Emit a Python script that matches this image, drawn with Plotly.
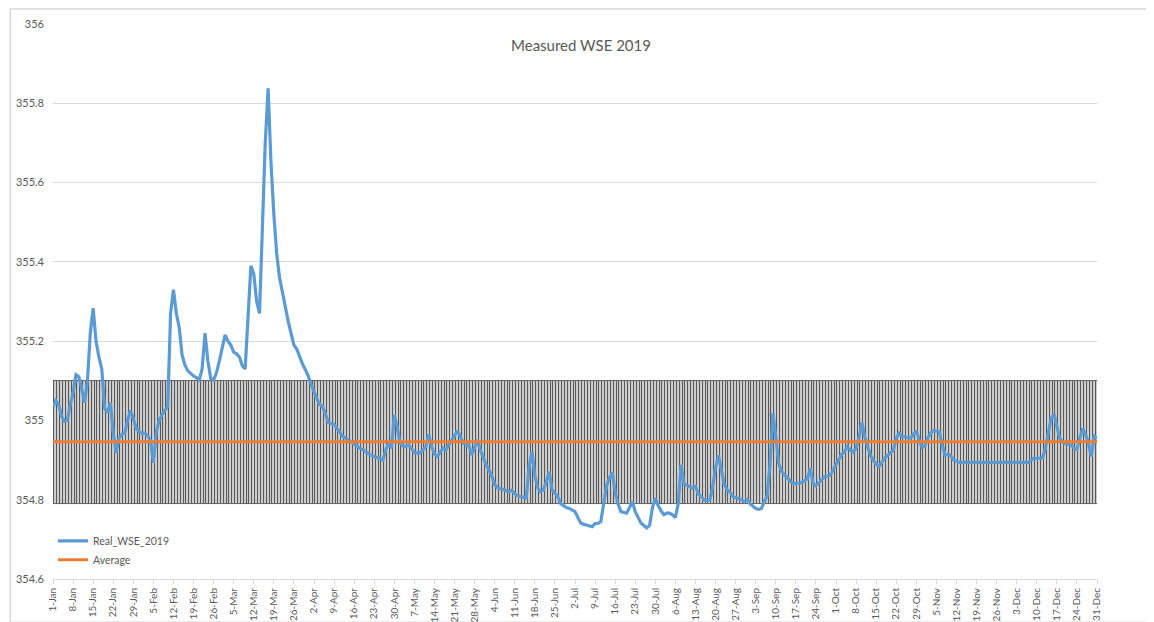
import pandas as pd
import plotly.graph_objects as go

# ── Daily water surface elevation, 2019 ─────────────────────────────────────
wse_jan = [355.035, 355.05, 355.04, 355.01, 354.998, 355.0, 355.04, 355.07, 355.115, 355.11,
           355.08, 355.045, 355.1, 355.22, 355.283, 355.2, 355.16, 355.13, 355.03, 355.02,
           355.045, 354.97, 354.918, 354.955, 354.965, 354.968, 355.0, 355.025, 355.005, 354.98,
           354.972]
wse_feb = [354.968, 354.968, 354.962, 354.95, 354.893, 354.97, 355.0, 355.015, 355.025, 355.035,
           355.27, 355.33, 355.27, 355.235, 355.165, 355.14, 355.125, 355.118, 355.112, 355.108,
           355.102, 355.13, 355.22, 355.15, 355.106, 355.102, 355.12, 355.15]
wse_mar = [355.18, 355.216, 355.2, 355.19, 355.172, 355.168, 355.16, 355.138, 355.13, 355.26,
           355.39, 355.37, 355.3, 355.27, 355.5, 355.7, 355.838, 355.65, 355.52, 355.42,
           355.36, 355.32, 355.28, 355.25, 355.22, 355.19, 355.18, 355.16, 355.142, 355.128,
           355.112]
wse_apr = [355.09, 355.07, 355.055, 355.04, 355.035, 355.015, 354.995, 354.992, 354.99, 354.98,
           354.97, 354.96, 354.955, 354.951, 354.945, 354.94, 354.934, 354.93, 354.926, 354.92,
           354.916, 354.912, 354.909, 354.906, 354.902, 354.9, 354.925, 354.943, 354.93, 355.014]
wse_may = [354.984, 354.943, 354.936, 354.934, 354.937, 354.93, 354.918, 354.917, 354.918, 354.925,
           354.934, 354.965, 354.934, 354.915, 354.909, 354.92, 354.93, 354.926, 354.938, 354.95,
           354.96, 354.974, 354.96, 354.943, 354.94, 354.937, 354.913, 354.935, 354.951, 354.925,
           354.905]
wse_jun = [354.888, 354.875, 354.86, 354.838, 354.83, 354.828, 354.826, 354.823, 354.82, 354.824,
           354.815, 354.81, 354.808, 354.808, 354.804, 354.884, 354.921, 354.86, 354.83, 354.82,
           354.825, 354.845, 354.871, 354.825, 354.815, 354.808, 354.79, 354.784, 354.78, 354.778]
wse_jul = [354.775, 354.77, 354.755, 354.741, 354.738, 354.736, 354.734, 354.732, 354.74, 354.74,
           354.745, 354.785, 354.835, 354.855, 354.868, 354.82, 354.79, 354.77, 354.768, 354.766,
           354.78, 354.795, 354.77, 354.755, 354.741, 354.735, 354.729, 354.735, 354.78, 354.804,
           354.785]
wse_aug = [354.772, 354.762, 354.766, 354.766, 354.762, 354.755, 354.79, 354.888, 354.84, 354.837,
           354.833, 354.829, 354.833, 354.815, 354.808, 354.8, 354.798, 354.8, 354.833, 354.88,
           354.912, 354.875, 354.84, 354.825, 354.82, 354.808, 354.806, 354.804, 354.8, 354.795,
           354.8]
wse_sep = [354.79, 354.785, 354.778, 354.776, 354.778, 354.795, 354.81, 354.89, 355.018, 354.96,
           354.892, 354.872, 354.862, 354.857, 354.846, 354.842, 354.84, 354.842, 354.843, 354.848,
           354.852, 354.879, 354.842, 354.835, 354.842, 354.85, 354.858, 354.86, 354.863, 354.875]
wse_oct = [354.888, 354.905, 354.915, 354.921, 354.935, 354.925, 354.92, 354.93, 354.955, 354.995,
           354.96, 354.935, 354.912, 354.9, 354.89, 354.884, 354.895, 354.905, 354.912, 354.918,
           354.925, 354.955, 354.968, 354.96, 354.958, 354.958, 354.955, 354.965, 354.974, 354.95,
           354.932]
wse_nov = [354.936, 354.955, 354.968, 354.974, 354.973, 354.972, 354.938, 354.913, 354.915, 354.911,
           354.9, 354.896, 354.894, 354.894, 354.894, 354.894, 354.894, 354.894, 354.894, 354.894,
           354.894, 354.894, 354.894, 354.894, 354.894, 354.894, 354.894, 354.894, 354.894, 354.894]
wse_dec = [354.894, 354.894, 354.894, 354.894, 354.894, 354.894, 354.894, 354.9, 354.905, 354.904,
           354.904, 354.905, 354.93, 354.965, 355.005, 355.016, 354.984, 354.955, 354.945, 354.941,
           354.94, 354.938, 354.93, 354.927, 354.955, 354.98, 354.965, 354.943, 354.909, 354.96,
           354.955]

real_wse = (wse_jan + wse_feb + wse_mar + wse_apr + wse_may + wse_jun
            + wse_jul + wse_aug + wse_sep + wse_oct + wse_nov + wse_dec)
assert len(real_wse) == 365

AVERAGE_WSE = 354.946
BAND_LOW = 354.79
BAND_HIGH = 355.10

dates = pd.date_range("2019-01-01", "2019-12-31", freq="D")
day_idx = list(range(len(dates)))
day_labels = [f"{d.day}-{d.strftime('%b')}" for d in dates]
tick_idx = day_idx[::7]
tick_text = day_labels[::7]

GREY_TXT = "#595959"
GRID = "#d9d9d9"
FONT = "Lato, 'Open Sans', sans-serif"

# the page body adds an 8px margin, so the figure is a little smaller than the window
FIG_W, FIG_H = 1146, 614

fig = go.Figure()

# hatched band: one thin bar per day between the band limits
fig.add_trace(go.Bar(
    x=day_idx,
    y=[BAND_HIGH - BAND_LOW] * len(day_idx),
    base=[BAND_LOW] * len(day_idx),
    marker=dict(color="#cfcfcf", line=dict(color="#505050", width=0.9)),
    showlegend=False,
    hoverinfo="skip",
))

fig.add_trace(go.Scatter(
    x=day_idx,
    y=real_wse,
    mode="lines",
    name="Real_WSE_2019",
    line=dict(color="#5B9BD5", width=3.2),
    customdata=day_labels,
    hovertemplate="%{customdata}: %{y:.3f}<extra></extra>",
))

fig.add_trace(go.Scatter(
    x=day_idx,
    y=[AVERAGE_WSE] * len(day_idx),
    mode="lines",
    name="Average",
    line=dict(color="#ED7D31", width=3),
    hoverinfo="skip",
))

fig.update_xaxes(
    range=[0, 364],
    tickmode="array",
    tickvals=tick_idx,
    ticktext=tick_text,
    tickangle=-90,
    tickfont=dict(size=10, color=GREY_TXT),
    ticks="outside",
    ticklen=4,
    tickcolor=GRID,
    showgrid=False,
    showline=True,
    linecolor=GRID,
    zeroline=False,
    automargin=False,
)
fig.update_yaxes(
    range=[354.6, 356],
    dtick=0.2,
    tick0=354.6,
    tickfont=dict(size=11, color=GREY_TXT),
    ticklabelstandoff=8,
    showgrid=True,
    gridcolor=GRID,
    gridwidth=1,
    zeroline=False,
    automargin=False,
)

# light chart-area border
fig.add_shape(type="rect", xref="paper", yref="paper",
              x0=-0.041, x1=1.0505, y0=-0.078, y1=1.027,
              line=dict(color=GRID, width=1.5), layer="below")

fig.update_layout(
    title=dict(text="Measured WSE 2019", x=0.5, xanchor="center",
               y=1 - 38 / FIG_H, yanchor="middle", yref="container",
               font=dict(size=15, color=GREY_TXT, family=FONT)),
    font=dict(family=FONT, color=GREY_TXT),
    width=FIG_W,
    height=FIG_H,
    margin=dict(l=45, r=57, t=16, b=43),
    bargap=0,
    plot_bgcolor="white",
    paper_bgcolor="white",
    legend=dict(x=0.0, y=0.095, xanchor="left", yanchor="top",
                bgcolor="rgba(0,0,0,0)", font=dict(size=10.5, color=GREY_TXT),
                tracegroupgap=2, itemwidth=30),
    showlegend=True,
)

fig.write_html("out.html")
